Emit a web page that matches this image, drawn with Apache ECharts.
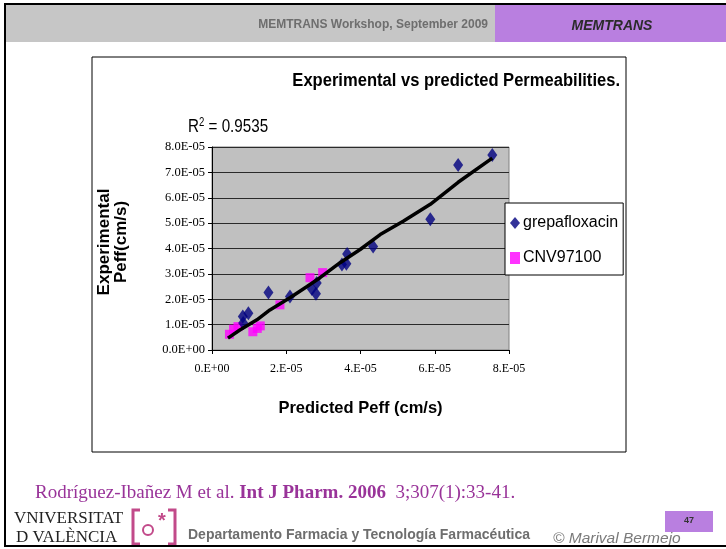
<!DOCTYPE html>
<html><head><meta charset="utf-8">
<script src="https://cdn.jsdelivr.net/npm/echarts@6/dist/echarts.min.js"></script>
<style>html,body{margin:0;padding:0;background:#fff}#c{width:726px;height:549px}</style>
</head><body><div id="c"></div>
<script>
// ---- data ----
const grepaPredicted    = [7.55e-5, 6.63e-5, 5.88e-5, 4.34e-5, 3.64e-5, 3.50e-5, 3.62e-5, 2.69e-5, 2.80e-5, 2.82e-5, 2.10e-5, 1.52e-5, 0.98e-5, 0.83e-5, 0.84e-5];
const grepaExperimental = [7.68e-5, 7.29e-5, 5.15e-5, 4.08e-5, 3.78e-5, 3.37e-5, 3.40e-5, 2.40e-5, 2.22e-5, 2.64e-5, 2.11e-5, 2.27e-5, 1.45e-5, 1.32e-5, 1.06e-5];
const cnvPredicted      = [0.47e-5, 0.58e-5, 0.70e-5, 1.10e-5, 1.22e-5, 1.30e-5, 1.83e-5, 2.64e-5, 2.98e-5];
const cnvExperimental   = [0.62e-5, 0.82e-5, 0.92e-5, 0.72e-5, 0.85e-5, 0.95e-5, 1.78e-5, 2.85e-5, 3.05e-5];
const trendPredicted    = [0.43e-5, 0.75e-5, 1.21e-5, 1.56e-5, 2.10e-5, 2.56e-5, 2.91e-5, 3.45e-5, 3.99e-5, 4.53e-5, 5.15e-5, 5.88e-5, 6.63e-5, 7.55e-5];
const trendExperimental = [0.47e-5, 0.79e-5, 1.19e-5, 1.58e-5, 2.06e-5, 2.50e-5, 2.85e-5, 3.44e-5, 3.96e-5, 4.55e-5, 5.07e-5, 5.74e-5, 6.61e-5, 7.56e-5];
const xTickLabels = ['0.E+00', '2.E-05', '4.E-05', '6.E-05', '8.E-05'];
const yTickLabels = ['0.0E+00', '1.0E-05', '2.0E-05', '3.0E-05', '4.0E-05', '5.0E-05', '6.0E-05', '7.0E-05', '8.0E-05'];
const seriesNames = ['grepafloxacin', 'CNV97100'];

const zip = (a, b) => a.map((v, i) => [v, b[i]]);
const SANS = '"Liberation Sans", Arial, sans-serif';
const SERIF = '"Liberation Serif", "Times New Roman", serif';

const chart = echarts.init(document.getElementById('c'), null, {renderer: 'canvas'});
chart.setOption({
  animation: false,
  backgroundColor: '#ffffff',
  grid: {left: 212, top: 147, width: 297, height: 203, show: true,
         backgroundColor: '#c0c0c0', borderColor: '#808080', borderWidth: 1},
  xAxis: {
    type: 'value', min: 0, max: 8e-5, interval: 2e-5,
    name: 'Predicted Peff (cm/s)', nameLocation: 'middle', nameGap: 50,
    nameTextStyle: {fontFamily: SANS, fontWeight: 'bold', fontSize: 16.5, color: '#000'},
    axisLine: {show: true, onZero: false, lineStyle: {color: '#000', width: 1}},
    axisTick: {show: true, inside: false, length: 4, lineStyle: {color: '#000'}},
    splitLine: {show: false},
    axisLabel: {margin: 13, fontFamily: SERIF, fontSize: 12, color: '#000',
      formatter: v => xTickLabels[Math.round(v / 2e-5)]}
  },
  yAxis: {
    type: 'value', min: 0, max: 8e-5, interval: 1e-5,
    axisLine: {show: true, onZero: false, lineStyle: {color: '#000', width: 1}},
    axisTick: {show: true, inside: false, length: 4, lineStyle: {color: '#000'}},
    splitLine: {show: true, lineStyle: {color: '#2a2a2a', width: 1}},
    axisLabel: {margin: 7, fontFamily: SERIF, fontSize: 12.5, color: '#000',
      formatter: v => yTickLabels[Math.round(v / 1e-5)]}
  },
  legend: {
    orient: 'vertical', left: 505, top: 203,
    data: seriesNames,
    backgroundColor: '#ffffff', borderColor: '#000', borderWidth: 1,
    padding: [12, 5, 9, 5], itemGap: 19, itemWidth: 10, itemHeight: 12,
    textStyle: {fontFamily: SANS, fontSize: 16, color: '#000', padding: [0, 0, 0, -2]}
  },
  series: [
    {name: seriesNames[0], type: 'scatter', data: zip(grepaPredicted, grepaExperimental),
     symbol: 'diamond', symbolSize: [10, 14], itemStyle: {color: '#000080'}, z: 3},
    {name: seriesNames[1], type: 'scatter', data: zip(cnvPredicted, cnvExperimental),
     symbol: 'rect', symbolSize: 9, itemStyle: {color: '#ff00ff'}, z: 2},
    {name: 'trend', type: 'line', data: zip(trendPredicted, trendExperimental),
     showSymbol: false, symbol: 'none', lineStyle: {color: '#000', width: 3.5}, z: 4, silent: true}
  ],
  graphic: [
    // slide frame and header
    {type: 'rect', shape: {x: 5, y: 4, width: 740, height: 542}, style: {fill: 'none', stroke: '#000', lineWidth: 2}, z: 10},
    {type: 'rect', shape: {x: 6, y: 5, width: 489, height: 37}, style: {fill: '#c6c6c6'}, z: 1},
    {type: 'rect', shape: {x: 495, y: 5, width: 231, height: 37}, style: {fill: '#b97fe0'}, z: 1},
    {type: 'text', x: 488, y: 25, style: {text: 'MEMTRANS Workshop, September 2009', font: 'bold 12px ' + SANS, fill: '#6e6e6e', textAlign: 'right', textVerticalAlign: 'middle'}, z: 2},
    {type: 'text', x: 612, y: 26, style: {text: 'MEMTRANS', font: 'italic bold 14px ' + SANS, fill: '#2b2b2b', textAlign: 'center', textVerticalAlign: 'middle'}, z: 2},
    // chart frame
    {type: 'rect', shape: {x: 92, y: 57, width: 534, height: 395}, style: {fill: 'none', stroke: '#000', lineWidth: 1}, z: 2},
    {type: 'text', x: 620, y: 81, scaleX: 0.92, style: {text: 'Experimental vs predicted Permeabilities.', font: 'bold 18px ' + SANS, fill: '#000', textAlign: 'right', textVerticalAlign: 'middle'}, z: 2},
    {type: 'text', x: 188, y: 127, scaleX: 0.8, style: {
      text: '{r|R}{s|2}{r| = 0.9535}', textVerticalAlign: 'middle',
      rich: {r: {font: '19px ' + SANS, fill: '#000'}, s: {font: '12px ' + SANS, fill: '#000', verticalAlign: 'top', padding: [0, 0, 8, 0]}}
    }, z: 2},
    // y axis title
    {type: 'text', x: 113, y: 242, rotation: Math.PI / 2, style: {
      text: 'Experimental\nPeff(cm/s)', font: 'bold 17px ' + SANS, lineHeight: 17, fill: '#000',
      textAlign: 'center', textVerticalAlign: 'middle'}, z: 2},
    // footer
    {type: 'text', x: 35, y: 493, style: {
      text: '{n|Rodríguez-Ibañez M et al. }{b|Int J Pharm. 2006}{n|  3;307(1):33-41.}', textVerticalAlign: 'middle',
      rich: {n: {font: '19px ' + SERIF, fill: '#993399'}, b: {font: 'bold 19px ' + SERIF, fill: '#993399'}}
    }, z: 2},
    {type: 'text', x: 14, y: 519, style: {text: 'VNIVERSITAT', font: '17px ' + SERIF, fill: '#222', textVerticalAlign: 'middle'}, z: 2},
    {type: 'text', x: 16, y: 538, style: {text: 'D VALÈNCIA', font: '17px ' + SERIF, fill: '#222', textVerticalAlign: 'middle'}, z: 2},
    {type: 'polyline', shape: {points: [[140, 510], [133, 510], [133, 544], [140, 544]]}, style: {stroke: '#c24a8a', lineWidth: 3, fill: 'none'}, z: 2},
    {type: 'polyline', shape: {points: [[168, 510], [175, 510], [175, 544], [168, 544]]}, style: {stroke: '#c24a8a', lineWidth: 3, fill: 'none'}, z: 2},
    {type: 'circle', shape: {cx: 148, cy: 530, r: 5}, style: {stroke: '#c24a8a', lineWidth: 2, fill: 'none'}, z: 2},
    {type: 'text', x: 162, y: 521, style: {text: '*', font: 'bold 20px ' + SANS, fill: '#c24a8a', textAlign: 'center', textVerticalAlign: 'middle'}, z: 2},
    {type: 'text', x: 188, y: 535, style: {text: 'Departamento Farmacia y Tecnología Farmacéutica', font: 'bold 14px ' + SANS, fill: '#6e6e6e', textVerticalAlign: 'middle'}, z: 2},
    {type: 'text', x: 553, y: 539, style: {text: '© Marival Bermejo', font: 'italic 15.5px ' + SANS, fill: '#7a7a7a', textVerticalAlign: 'middle'}, z: 2},
    {type: 'rect', shape: {x: 665, y: 511, width: 48, height: 21}, style: {fill: '#b97fe0'}, z: 1},
    {type: 'text', x: 689, y: 521, style: {text: '47', font: 'bold 9px ' + SANS, fill: '#333', textAlign: 'center', textVerticalAlign: 'middle'}, z: 2}
  ]
});
</script>
</body></html>
